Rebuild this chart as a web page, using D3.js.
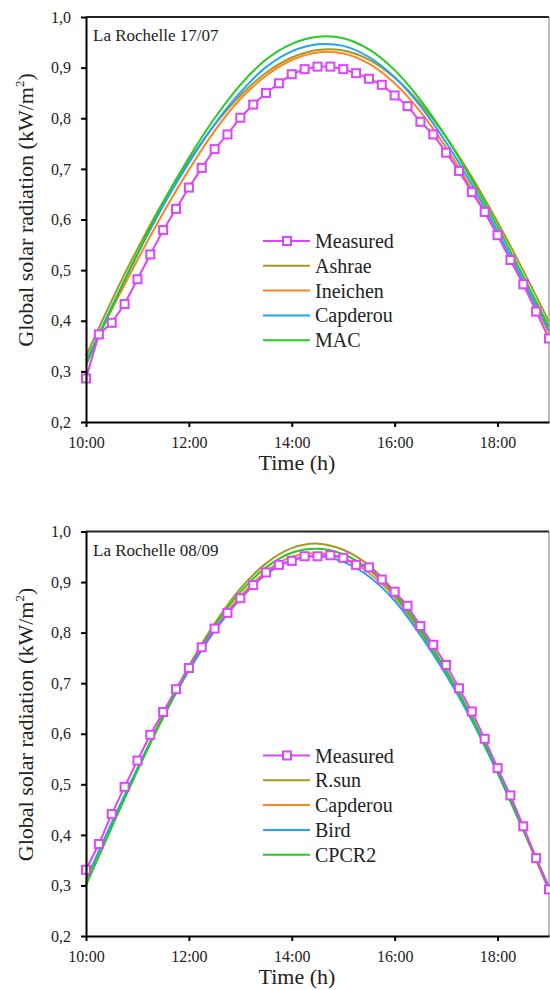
<!DOCTYPE html>
<html>
<head>
<meta charset="utf-8">
<script src="https://cdn.jsdelivr.net/npm/d3@7"></script>
<style>
  html,body{margin:0;padding:0;background:#fff;}
  svg{display:block;}
  svg text{font-family:"Times New Roman","Liberation Serif",Tinos,"DejaVu Serif",serif;}
</style>
</head>
<body>
<svg id="chart" width="550" height="990"></svg>
<script>
// quarter-hour grid for measured points, half-hour grid for the models
const tQuarter=[10,10.25,10.5,10.75,11,11.25,11.5,11.75,12,12.25,12.5,12.75,13,13.25,13.5,13.75,14,14.25,14.5,14.75,15,15.25,15.5,15.75,16,16.25,16.5,16.75,17,17.25,17.5,17.75,18,18.25,18.5,18.75,19];
const tHalf=[10,10.5,11,11.5,12,12.5,13,13.5,14,14.5,15,15.5,16,16.5,17,17.5,18,18.5,19];
const xTicks=[10,12,14,16,18];
const xTickLabels=["10:00","12:00","14:00","16:00","18:00"];
const yTicks=[0.2,0.3,0.4,0.5,0.6,0.7,0.8,0.9,1.0];

// La Rochelle 17/07
const measured1=[0.286,0.373,0.396,0.433,0.482,0.531,0.579,0.621,0.663,0.702,0.739,0.768,0.801,0.827,0.850,0.869,0.887,0.897,0.902,0.902,0.897,0.889,0.878,0.866,0.845,0.824,0.793,0.768,0.732,0.696,0.654,0.615,0.569,0.520,0.472,0.418,0.365];
const ashrae=[0.330,0.440,0.542,0.635,0.716,0.787,0.845,0.890,0.920,0.935,0.934,0.916,0.880,0.829,0.763,0.684,0.595,0.499,0.398];
const ineichen=[0.322,0.422,0.520,0.613,0.698,0.775,0.838,0.884,0.915,0.930,0.928,0.908,0.869,0.813,0.742,0.660,0.569,0.473,0.376];
const capderou1=[0.318,0.428,0.531,0.627,0.712,0.788,0.851,0.901,0.932,0.946,0.943,0.921,0.881,0.824,0.752,0.669,0.577,0.480,0.381];
const mac=[0.312,0.425,0.533,0.634,0.722,0.800,0.866,0.916,0.947,0.961,0.958,0.936,0.895,0.836,0.763,0.678,0.586,0.488,0.388];

// La Rochelle 08/09
const measured2=[0.331,0.382,0.441,0.495,0.547,0.598,0.643,0.688,0.730,0.771,0.808,0.839,0.868,0.894,0.919,0.934,0.942,0.951,0.951,0.953,0.948,0.934,0.929,0.905,0.881,0.853,0.813,0.776,0.736,0.690,0.644,0.590,0.532,0.478,0.417,0.354,0.292];
const rsun=[0.303,0.418,0.530,0.637,0.734,0.818,0.887,0.937,0.967,0.976,0.964,0.933,0.880,0.808,0.726,0.633,0.525,0.410,0.290];
const capderou2=[0.305,0.418,0.528,0.632,0.726,0.806,0.872,0.921,0.950,0.957,0.947,0.918,0.870,0.801,0.721,0.629,0.523,0.409,0.291];
const bird=[0.312,0.424,0.532,0.633,0.725,0.803,0.867,0.915,0.943,0.951,0.940,0.911,0.863,0.795,0.716,0.626,0.522,0.410,0.297];
const cpcr2=[0.300,0.415,0.527,0.633,0.730,0.813,0.880,0.929,0.958,0.966,0.955,0.925,0.875,0.805,0.724,0.632,0.526,0.412,0.294];

const C={measured:"#dc46fa",olive:"#a39a22",orange:"#ff8420",blue:"#1ea4ff",green:"#22cc22"};

const panels=[
  {title:"La Rochelle 17/07",top:17,bottom:422,measured:measured1,
   models:[{name:"Ashrae",v:ashrae,c:C.olive},{name:"Ineichen",v:ineichen,c:C.orange},
           {name:"Capderou",v:capderou1,c:C.blue},{name:"MAC",v:mac,c:C.green}]},
  {title:"La Rochelle 08/09",top:531.5,bottom:936,measured:measured2,
   models:[{name:"R.sun",v:rsun,c:C.olive},{name:"Capderou",v:capderou2,c:C.orange},
           {name:"Bird",v:bird,c:C.blue},{name:"CPCR2",v:cpcr2,c:C.green}]}
];

const svg=d3.select("#chart");
const left=86,right=549;
const x=d3.scaleLinear().domain([10,19]).range([left,right]);

panels.forEach(p=>{
  const y=d3.scaleLinear().domain([0.2,1.0]).range([p.bottom,p.top]);
  const g=svg.append("g");

  // frame: top and right
  g.append("line").attr("x1",left).attr("x2",right).attr("y1",p.top).attr("y2",p.top)
    .attr("stroke","#222").attr("stroke-width",2);
  g.append("line").attr("x1",right).attr("x2",right).attr("y1",p.top).attr("y2",p.bottom)
    .attr("stroke","#777").attr("stroke-width",1);

  const line=d3.line().x((d,i)=>x(tHalf[i])).y(d=>y(d)).curve(d3.curveCatmullRom);
  p.models.forEach(m=>{
    g.append("path").datum(m.v).attr("fill","none").attr("stroke",m.c)
      .attr("stroke-width",2).attr("d",line);
  });

  const mline=d3.line().x((d,i)=>x(tQuarter[i])).y(d=>y(d));
  g.append("path").datum(p.measured).attr("fill","none").attr("stroke",C.measured)
    .attr("stroke-width",2).attr("d",mline);
  g.selectAll(".mk").data(p.measured).join("rect").attr("class","mk")
    .attr("x",(d,i)=>x(tQuarter[i])-4).attr("y",d=>y(d)-4)
    .attr("width",8).attr("height",8)
    .attr("fill","#fff").attr("stroke",C.measured).attr("stroke-width",2);

  // axes
  const ya=g.append("g").attr("transform",`translate(${left},0)`)
    .call(d3.axisLeft(y).tickValues(yTicks).tickSize(5).tickSizeOuter(0).tickPadding(10)
      .tickFormat(d=>d.toFixed(1).replace(".",",")));
  const xa=g.append("g").attr("transform",`translate(0,${p.bottom})`)
    .call(d3.axisBottom(x).tickValues(xTicks).tickSize(5).tickSizeOuter(0).tickPadding(10)
      .tickFormat((d,i)=>xTickLabels[i]));
  [ya,xa].forEach(a=>{
    a.attr("font-family",null);
    a.select(".domain").attr("stroke","#000").attr("stroke-width",2);
    a.selectAll(".tick line").attr("stroke","#000").attr("stroke-width",2);
    a.selectAll(".tick text").attr("font-size",16).attr("fill","#222");
  });

  g.append("text").attr("x",93).attr("y",p.top+24).attr("font-size",17).attr("fill","#222")
    .text(p.title);

  g.append("text").attr("x",297).attr("y",p.bottom+48).attr("text-anchor","middle")
    .attr("font-size",22).attr("fill","#222").text("Time (h)");

  const yt=g.append("text").attr("transform",`translate(33,${p.top+193}) rotate(-90)`)
    .attr("text-anchor","middle").attr("font-size",22).attr("fill","#222");
  yt.append("tspan").text("Global solar radiation (kW/m");
  yt.append("tspan").attr("font-size",13).attr("dy",-9).text("2");
  yt.append("tspan").attr("dy",9).text(")");

  // legend
  const items=[{name:"Measured",c:C.measured,mk:true}].concat(p.models);
  const lg=g.append("g");
  items.forEach((it,i)=>{
    const ly=p.top+224+i*24.8;
    lg.append("line").attr("x1",263).attr("x2",310).attr("y1",ly).attr("y2",ly)
      .attr("stroke",it.c).attr("stroke-width",2);
    if(it.mk){
      lg.append("rect").attr("x",283).attr("y",ly-4).attr("width",8).attr("height",8)
        .attr("fill","#fff").attr("stroke",it.c).attr("stroke-width",2);
    }
    lg.append("text").attr("x",315).attr("y",ly+7).attr("font-size",20).attr("fill","#222")
      .text(it.name);
  });
});
</script>
</body>
</html>
